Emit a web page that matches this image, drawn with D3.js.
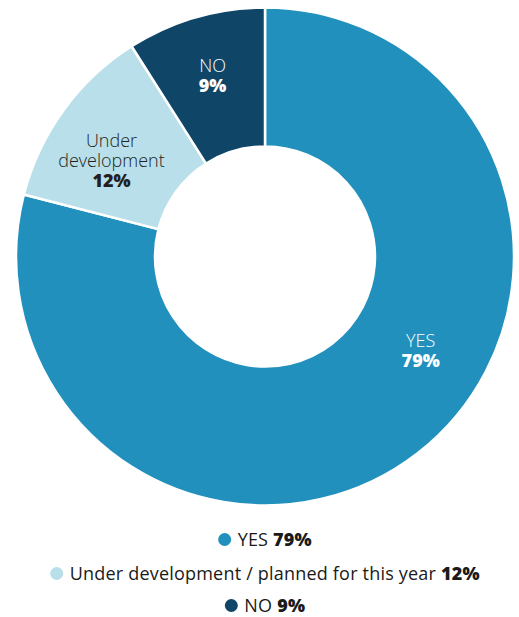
<!DOCTYPE html>
<html>
<head>
<meta charset="utf-8">
<script src="https://cdn.jsdelivr.net/npm/d3@7"></script>
<style>
  html, body { margin: 0; padding: 0; background: #fff; }
  svg { display: block; font-family: "Open Sans", Roboto, sans-serif; }
</style>
</head>
<body>
<svg id="chart" width="519" height="617"></svg>
<script>
// ---- data ----
const categories = ["YES", "Under development", "NO"];
const legendNames = ["YES", "Under development / planned for this year", "NO"];
const values = [79, 12, 9];
const colors = ["#2190bd", "#b8dfea", "#0f4567"];
const labelLines = [["YES"], ["Under", "development"], ["NO"]];

// ---- layout ----
const W = 519, H = 617;
const cx = 265, cy = 256.5;
const outerR = 249, innerR = 110;
const labelR = [182, 181, 188];
const labelAngleShift = [-21, -4, 0]; // degrees, manual nudges
const labelColors = ["#ffffff", "#231f20", "#ffffff"];

const svg = d3.select("#chart");
const g = svg.append("g").attr("transform", `translate(${cx},${cy})`);

const pie = d3.pie().sort(null).value(d => d)(values);
const arc = d3.arc().innerRadius(innerR).outerRadius(outerR);

g.selectAll("path.slice")
  .data(pie)
  .join("path")
  .attr("class", "slice")
  .attr("d", arc)
  .attr("fill", (d, i) => colors[i])
  .attr("stroke", "#fff")
  .attr("stroke-width", 2.5)
  .attr("stroke-linejoin", "miter");

// labels
const fs = 18, lh = 20;
pie.forEach((d, i) => {
  const mid = (d.startAngle + d.endAngle) / 2 + labelAngleShift[i] * Math.PI / 180;
  const x = labelR[i] * Math.sin(mid);
  const y = -labelR[i] * Math.cos(mid);
  const lines = labelLines[i].concat([values[i] + "%"]);
  const n = lines.length;
  const capH = fs * 0.72;
  const blockH = capH + (n - 1) * lh;
  const firstBase = y - blockH / 2 + capH;
  lines.forEach((s, k) => {
    g.append("text")
      .attr("text-anchor", "middle")
      .attr("fill", labelColors[i])
      .attr("x", x)
      .attr("y", firstBase + k * lh)
      .style("font-size", fs + "px")
      .style("font-weight", k === n - 1 ? 800 : 300)
      .text(s);
  });
});

// legend
const legendY = [546, 580, 612];
const dotR = 6.5, dotGap = 13;
const lfs = 18;
legendNames.forEach((name, i) => {
  const lg = svg.append("g");
  const txt = lg.append("text")
    .attr("x", dotGap)
    .attr("y", 0)
    .attr("fill", "#1a1a1a")
    .style("font-size", lfs + "px")
    .style("letter-spacing", "0.2px");
  txt.append("tspan").style("font-weight", 400).text(name + " ");
  txt.append("tspan").style("font-weight", 800).text(values[i] + "%");
  lg.append("circle")
    .attr("cx", 0)
    .attr("cy", -lfs * 0.72 / 2)
    .attr("r", dotR)
    .attr("fill", colors[i]);
  const bb = lg.node().getBBox();
  const left = bb.x, right = bb.x + bb.width;
  const tx = cx - (left + right) / 2;
  lg.attr("transform", `translate(${tx},${legendY[i]})`);
});
</script>
</body>
</html>
